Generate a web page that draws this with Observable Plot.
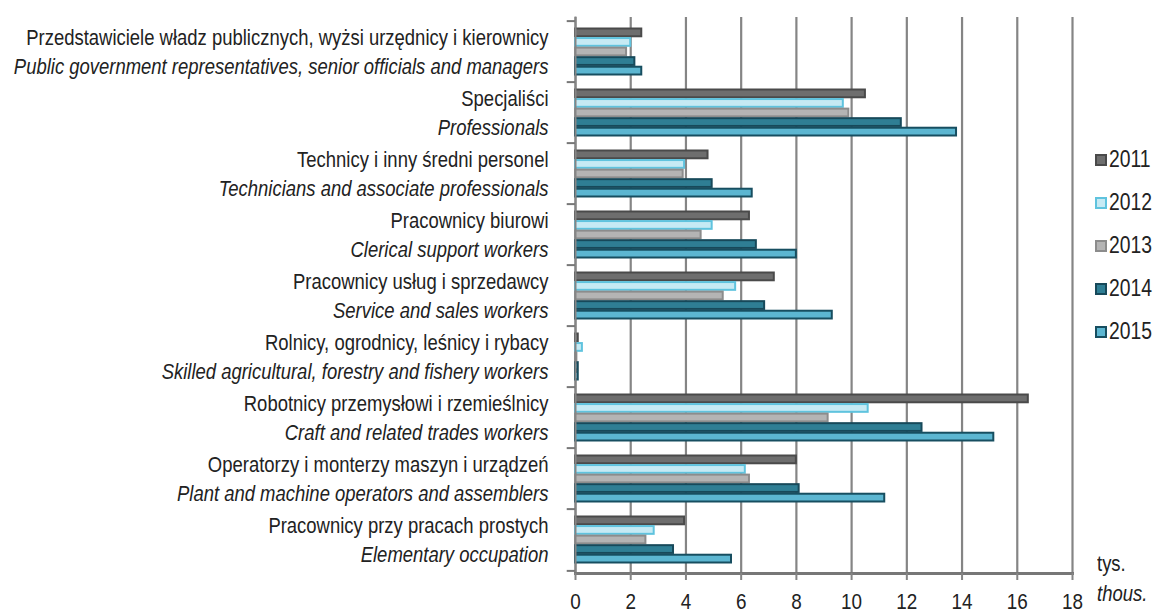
<!DOCTYPE html>
<html>
<head>
<meta charset="utf-8">
<script src="https://cdn.jsdelivr.net/npm/d3@7"></script>
<script src="https://cdn.jsdelivr.net/npm/@observablehq/plot@0.6"></script>
<style>
  html, body { margin: 0; padding: 0; background: #fff; }
  #wrap { position: relative; width: 1157px; height: 613px; font-family: "Liberation Sans", Arial, sans-serif; color: #222; }
  #legend { position: absolute; left: 1095px; top: 138px; }
  .li { display: flex; align-items: center; height: 43px; font-size: 23px; }
  .sw { width: 8px; height: 8px; border: 2px solid; margin-right: 2px; flex: none; }
  .nar { display: inline-block; transform: scaleX(0.84); transform-origin: left center; white-space: nowrap; }
  #unit { position: absolute; left: 1097px; top: 549px; font-size: 22px; line-height: 30px; }
</style>
</head>
<body>
<div id="wrap"></div>
<script>
const categoriesPL = [
  "Przedstawiciele władz publicznych, wyżsi urzędnicy i kierownicy",
  "Specjaliści",
  "Technicy i inny średni personel",
  "Pracownicy biurowi",
  "Pracownicy usług i sprzedawcy",
  "Rolnicy, ogrodnicy, leśnicy i rybacy",
  "Robotnicy przemysłowi i rzemieślnicy",
  "Operatorzy i monterzy maszyn i urządzeń",
  "Pracownicy przy pracach prostych"
];
const categoriesEN = [
  "Public government representatives, senior officials and managers",
  "Professionals",
  "Technicians and associate professionals",
  "Clerical support workers",
  "Service and sales workers",
  "Skilled agricultural, forestry and fishery workers",
  "Craft and related trades workers",
  "Plant and machine operators and assemblers",
  "Elementary occupation"
];
const years = ["2011", "2012", "2013", "2014", "2015"];
const values2011 = [2.4, 10.5, 4.8, 6.3, 7.2, 0.1, 16.4, 8.0, 3.95];
const values2012 = [2.0, 9.7, 3.95, 4.95, 5.8, 0.25, 10.6, 6.15, 2.85];
const values2013 = [1.85, 9.9, 3.9, 4.55, 5.35, 0.05, 9.15, 6.3, 2.55];
const values2014 = [2.15, 11.8, 4.95, 6.55, 6.85, 0.1, 12.55, 8.1, 3.55];
const values2015 = [2.4, 13.8, 6.4, 8.0, 9.3, 0.1, 15.15, 11.2, 5.65];
const xTicks = [0, 2, 4, 6, 8, 10, 12, 14, 16, 18];

const fills = ["#6e6e6e", "#c6eaf4", "#b4b4b4", "#2f7e94", "#5cb6d1"];
const strokes = ["#4a4a4a", "#5fc3de", "#8c8c8c", "#17495a", "#174e60"];
const seriesValues = [values2011, values2012, values2013, values2014, values2015];

const W = 1157, H = 613, mT = 17, mB = 40, mL = 575, mR = 85;
const bw = (H - mT - mB) / categoriesPL.length;
const pad = 7, step = (bw - 2 * pad) / years.length;
const NARROW = 0.84;

const labels = categoriesPL.map((pl, i) => ({pl, en: categoriesEN[i]}));

const barMarks = years.map((yr, i) => {
  const rows = categoriesPL.map((c, j) => ({cat: c, year: yr, value: seriesValues[i][j]}));
  return Plot.barX(rows, {
    x: "value", y: "cat",
    fill: fills[i], stroke: strokes[i], strokeWidth: 2,
    insetTop: pad + i * step + 0.5,
    insetBottom: bw - pad - (i + 1) * step + 0.5
  });
});

const fontFam = '"Liberation Sans", Arial, sans-serif';

const chart = Plot.plot({
  width: W, height: H,
  marginTop: mT, marginBottom: mB, marginLeft: mL, marginRight: mR,
  style: {fontFamily: fontFam, color: "#222", background: "transparent", overflow: "visible"},
  x: {domain: [0, 18], ticks: xTicks, axis: null},
  y: {domain: categoriesPL, padding: 0, axis: null},
  marks: [
    Plot.gridX(xTicks, {stroke: "#858585", strokeOpacity: 1, strokeWidth: 2.2}),
    ...barMarks,
    Plot.frame({anchor: "left", stroke: "#858585", strokeWidth: 2}),
    Plot.frame({anchor: "bottom", stroke: "#777", strokeWidth: 3}),
    Plot.axisX(xTicks, {tickSize: 7, stroke: "#858585", strokeWidth: 2, fontSize: 23, tickPadding: 13, fill: "#222", label: null}),
    Plot.ruleY(categoriesPL, {y: d => d, x1: -0.3, x2: 0, dy: -bw / 2, stroke: "#777", strokeWidth: 2}),
    Plot.ruleY(categoriesPL.slice(-1), {y: d => d, x1: -0.3, x2: 0, dy: bw / 2, stroke: "#777", strokeWidth: 2}),
    Plot.text(labels, {y: "pl", text: "pl", frameAnchor: "left", textAnchor: "end", dx: -27, dy: -14, fontSize: 22, fill: "#222"}),
    Plot.text(labels, {y: "pl", text: "en", frameAnchor: "left", textAnchor: "end", dx: -27, dy: 15, fontSize: 22, fontStyle: "italic", fill: "#222"})
  ]
});

const wrap = document.getElementById("wrap");
wrap.appendChild(chart);

// condense text horizontally (narrow typeface look)
const svgNS = "http://www.w3.org/2000/svg";
const labelSet = new Set([...categoriesPL, ...categoriesEN]);
const tickSet = new Set(xTicks.map(String));
Array.from(chart.querySelectorAll("text")).forEach(t => {
  const s = t.textContent;
  const isLabel = labelSet.has(s), isTick = tickSet.has(s);
  if (!isLabel && !isTick) return;
  if (isTick) t.style.fontSize = "22.5px";
  const w = document.createElementNS(svgNS, "g");
  t.parentNode.insertBefore(w, t);
  w.appendChild(t);
  const b = w.getBBox();
  const ox = isLabel ? b.x + b.width : b.x + b.width / 2;
  w.setAttribute("transform", `translate(${ox},0) scale(${NARROW},1) translate(${-ox},0)`);
});

const legend = document.createElement("div");
legend.id = "legend";
years.forEach((yr, i) => {
  const row = document.createElement("div");
  row.className = "li";
  const sw = document.createElement("span");
  sw.className = "sw";
  sw.style.background = fills[i];
  sw.style.borderColor = strokes[i];
  row.appendChild(sw);
  const t = document.createElement("span");
  t.className = "nar";
  t.textContent = yr;
  row.appendChild(t);
  legend.appendChild(row);
});
wrap.appendChild(legend);

const unit = document.createElement("div");
unit.id = "unit";
unit.innerHTML = '<span class="nar">tys.</span><br><span class="nar"><i>thous.</i></span>';
wrap.appendChild(unit);
</script>
</body>
</html>
